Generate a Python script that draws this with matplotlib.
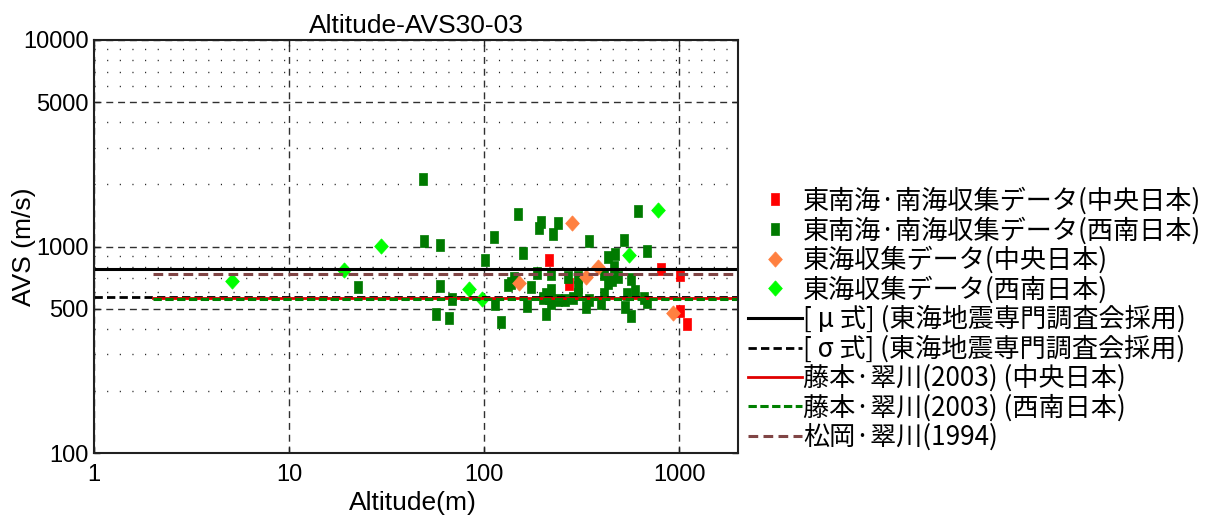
import matplotlib
matplotlib.use("Agg")
import matplotlib.pyplot as plt
from matplotlib.font_manager import FontProperties

plt.rcParams['lines.scale_dashes'] = False
plt.rcParams['font.family'] = ['Liberation Sans', 'DejaVu Sans']

# ---- observations: altitude (m) vs AVS30 (m/s) ----
tonankai_central_alt = [215, 272, 803, 1006, 1006, 1099]
tonankai_central_avs = [859, 660, 780, 729, 487, 421]

tonankai_sw_alt = [22.5, 48.3, 49.2, 59.2, 59.2, 56.7, 66.1, 68.1, 100.7, 112,
                   114, 121.7, 149, 158.6, 138, 143, 174, 165, 194.6, 190,
                   224, 239, 208, 220, 220, 187, 220, 200, 239, 261,
                   268, 302, 302, 302, 333, 346, 346, 413, 413, 397,
                   429, 429, 471, 450, 464, 484, 522, 529, 539, 569,
                   569, 595, 615, 660, 685, 681, 285, 208, 215, 132]
tonankai_sw_avs = [638, 2128, 1065, 1018, 643, 470, 453, 554, 859, 1107,
                   526, 433, 1435, 926, 662, 700, 638, 514, 1317, 1223,
                   1148, 1293, 470, 614, 530, 745, 740, 566, 548, 548,
                   712, 712, 592, 638, 510, 548, 1065, 740, 592, 530,
                   662, 891, 918, 685, 800, 712, 1081, 510, 592, 697,
                   460, 609, 1479, 566, 539, 946, 560, 592, 560, 650]

tokai_central_alt = [281, 151, 333, 382, 931]
tokai_central_avs = [1300, 662, 708, 793, 474]

tokai_sw_alt = [5.1, 19.1, 29.5, 83.5, 96.9, 551, 778]
tokai_sw_avs = [682, 767, 1007, 624, 554, 905, 1501]

# ---- reference relations (constant AVS over altitude) ----
alt_full = [1, 2000]
alt_fit = [2, 2000]
mu_avs = 780
sigma_avs = 567
fujimoto_central_avs = 562
fujimoto_sw_avs = 555
matsuoka_avs = 738

labels = [
    "東南海·南海収集データ(中央日本)",
    "東南海·南海収集データ(西南日本)",
    "東海収集データ(中央日本)",
    "東海収集データ(西南日本)",
    "[ μ 式] (東海地震専門調査会採用)",
    "[ σ 式] (東海地震専門調査会採用)",
    "藤本·翠川(2003) (中央日本)",
    "藤本·翠川(2003) (西南日本)",
    "松岡·翠川(1994)",
]

x_ticks = [1, 10, 100, 1000]
y_ticks = [100, 500, 1000, 5000, 10000]
y_minor = [200, 300, 400, 600, 700, 800, 900,
           2000, 3000, 4000, 6000, 7000, 8000, 9000]

W, H = 1219, 522
fig = plt.figure(figsize=(W / 100, H / 100), dpi=100)
ax = fig.add_axes([94 / W, 1 - 453 / H, (738 - 94) / W, (453 - 40) / H])
ax.set_xscale('log')
ax.set_yscale('log')
ax.set_xlim(1, 2000)
ax.set_ylim(100, 10000)

# tall rectangle and diamond marker shapes
rect = [(-0.37, -0.5), (0.37, -0.5), (0.37, 0.5), (-0.37, 0.5), (-0.37, -0.5)]
diam = [(0, 0.5), (0.45, 0), (0, -0.5), (-0.45, 0), (0, 0.5)]

mk = dict(ls='none', zorder=3, mew=0.5)
ax.plot(tonankai_central_alt, tonankai_central_avs, marker=rect, ms=8.5,
        color='#ff0000', label=labels[0], **mk)
ax.plot(tonankai_sw_alt, tonankai_sw_avs, marker=rect, ms=8.5,
        color='#007a00', label=labels[1], **mk)
ax.plot(tokai_central_alt, tokai_central_avs, marker=diam, ms=11,
        color='#ff8040', label=labels[2], **mk)
ax.plot(tokai_sw_alt, tokai_sw_avs, marker=diam, ms=11,
        color='#00ff00', label=labels[3], **mk)

ax.plot(alt_full, [mu_avs] * 2, color='black', lw=2.2, zorder=4, label=labels[4])
ax.plot(alt_full, [sigma_avs] * 2, color='black', lw=2.0, ls=(0, (6, 3)),
        zorder=4, label=labels[5])
ax.plot(alt_fit, [fujimoto_central_avs] * 2, color='#e00000', lw=2.0,
        zorder=4, label=labels[6])
ax.plot(alt_fit, [fujimoto_sw_avs] * 2, color='#008000', lw=2.2,
        ls=(0, (6, 2.5)), zorder=4, label=labels[7])
ax.plot(alt_fit, [matsuoka_avs] * 2, color='#804545', lw=2.2,
        ls=(0, (7, 3.8)), zorder=4, label=labels[8])

# ticks and grid
ax.set_xticks(x_ticks)
ax.set_xticklabels([str(v) for v in x_ticks])
ax.set_xticks([], minor=True)
ax.set_yticks(y_ticks)
ax.set_yticklabels([str(v) for v in y_ticks])
ax.set_yticks(y_minor, minor=True)
ax.tick_params(which='major', direction='in', length=4, width=1,
               top=True, right=True, labelsize=17, color='#202020')
ax.tick_params(axis='x', which='major', pad=8)
ax.tick_params(axis='y', which='major', pad=4)
ax.tick_params(which='minor', length=0)
ax.grid(True, which='major', ls=(0, (5, 3.5)), color='#303030', lw=1.0, zorder=1)
ax.yaxis.grid(True, which='minor', ls=(0, (0.8, 8.3)), color='#202020', lw=1.0)
ax.set_axisbelow(True)
for s in ax.spines.values():
    s.set_linewidth(1.5)
    s.set_color('#202020')
    s.set_zorder(5)

ax.set_title('Altitude-AVS30-03', fontsize=19, pad=5)
ax.set_xlabel('Altitude(m)', fontsize=19)
ax.set_ylabel('AVS (m/s)', fontsize=19)
ax.xaxis.set_label_coords(0.495, -0.092)
ax.yaxis.set_label_coords(-0.09, 0.5)

leg = ax.legend(loc='upper left', bbox_to_anchor=(748 / W, 1 - 187 / H),
                bbox_transform=fig.transFigure, frameon=False, borderpad=0,
                borderaxespad=0, handlelength=2.05, handletextpad=0.05,
                labelspacing=0.08, numpoints=1,
                prop=FontProperties(family=['Noto Sans CJK JP', 'DejaVu Sans'], size=18.8))

fig.savefig('out.png', dpi=100)
